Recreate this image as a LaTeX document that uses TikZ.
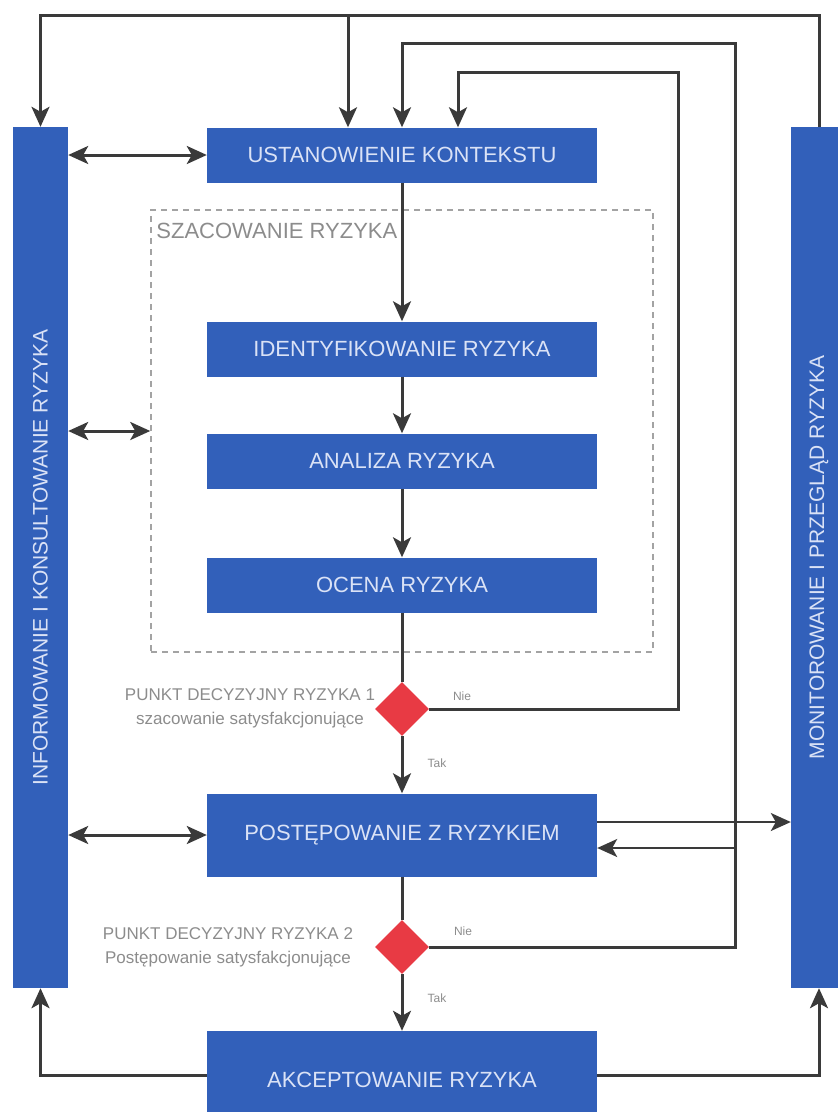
\documentclass[tikz,border=0pt]{standalone}
\usepackage{fontspec}
\setmainfont{Liberation Sans}
\definecolor{riskblue}{RGB}{50,96,186}
\definecolor{boxtext}{RGB}{218,226,246}
\definecolor{linegray}{RGB}{58,58,58}
\definecolor{decred}{RGB}{232,58,68}
\definecolor{muted}{RGB}{140,140,140}
\usetikzlibrary{calc,shapes.geometric,arrows.meta,positioning}
\newcommand{\boxfont}{\fontsize{22}{26}\selectfont}
\newcommand{\barfont}{\fontsize{21}{25}\selectfont}
\newcommand{\notefont}{\fontsize{17}{24}\selectfont}

\begin{document}
\begin{tikzpicture}[x=1pt,y=-1pt,
  stepbox/.style={fill=riskblue, text=boxtext, minimum width=390pt, minimum height=55pt, inner sep=0pt, font=\boxfont},
  sidebar/.style={fill=riskblue, text=boxtext, minimum width=55pt, minimum height=861pt, inner sep=0pt, font=\barfont},
  decision/.style={diamond, fill=decred, minimum width=54pt, minimum height=54pt, inner sep=0pt},
  flow/.style={draw=linegray, line width=3pt, -{Stealth[length=20pt,width=18pt,inset=5pt]}},
  both/.style={flow, {Stealth[length=20pt,width=18pt,inset=5pt]}-{Stealth[length=20pt,width=18pt,inset=5pt]}},
  plain/.style={draw=linegray, line width=3pt},
  note/.style={text=muted, font=\notefont, align=center},
  answer/.style={text=muted, font=\fontsize{12}{14}\selectfont}]
  \useasboundingbox (0,0) rectangle (838,1112);

  \node[sidebar] (info) at (40.5,557.5) {\rotatebox{90}{INFORMOWANIE I KONSULTOWANIE RYZYKA}};
  \node[sidebar, minimum width=56pt] (monit) at (819,557.5) {\rotatebox{90}{MONITOROWANIE I PRZEGLĄD RYZYKA}};

  \node[draw=muted!80, line width=1.5pt, dash pattern=on 6pt off 5pt, minimum width=502pt, minimum height=442pt, inner sep=0pt] (szac) at (402,431) {};
  \node[anchor=north west, text=muted, font=\boxfont, inner sep=0pt] (szaclab) at ([xshift=6pt,yshift=-14pt]szac.north west) {SZACOWANIE RYZYKA};

  \node[stepbox] (ust) at (402,155) {USTANOWIENIE KONTEKSTU};
  \node[stepbox] (ident) at (402,349) {IDENTYFIKOWANIE RYZYKA};
  \node[stepbox] (anal) at (402,461) {ANALIZA RYZYKA};
  \node[stepbox] (ocena) at (402,585) {OCENA RYZYKA};
  \node[decision] (dec1) at (402,709) {};
  \node[stepbox, minimum height=83pt] (post) at (402,835) {POSTĘPOWANIE Z RYZYKIEM};
  \node[decision] (dec2) at (402,947) {};
  \node[stepbox, minimum height=98pt] (akc) at (402,1080) {AKCEPTOWANIE RYZYKA};

  \node[note] (note1) at (250,708) {PUNKT DECYZYJNY RYZYKA 1\\szacowanie satysfakcjonujące};
  \node[note] (note2) at (228,947) {PUNKT DECYZYJNY RYZYKA 2\\Postępowanie satysfakcjonujące};
  \node[answer] (nie1) at (462,696) {Nie};
  \node[answer] (tak1) at (437,763) {Tak};
  \node[answer] (nie2) at (463,931) {Nie};
  \node[answer] (tak2) at (437,998) {Tak};

  \draw[flow] (ust) -- (ident);
  \draw[flow] (ident) -- (anal);
  \draw[flow] (anal) -- (ocena);
  \draw[plain] (ocena) -- (dec1);
  \draw[flow] (dec1) -- (post);
  \draw[plain] (post) -- (dec2);
  \draw[flow] (dec2) -- (akc);

  \coordinate (loop1) at (678,72);
  \coordinate (loop2) at (735,43);
  \coordinate (loop3) at (819,15);
  \coordinate (ctx) at (348,15);
  \draw[flow] (dec1.east) -| (loop1) -| ([xshift=56pt]ust.north);
  \draw[flow] (dec2.east) -| (loop2) -| (ust.north);
  \draw[flow] (monit.north) -- (loop3) -| (info.north);
  \draw[flow] (ctx) -- (ctx |- ust.north);

  \coordinate (back) at (735,848);
  \coordinate (fwd) at ([yshift=13pt]post.east);
  \draw[flow, line width=2pt] (back) -- (back -| post.east);
  \draw[flow, line width=2pt] (fwd) -- (fwd -| monit.west);

  \draw[both] (info.east |- ust) -- (ust);
  \draw[both] (info.east |- szac.west) -- (szac.west);
  \draw[both] (info.east |- post) -- (post);

  \coordinate (accl) at ([yshift=5pt]akc.west);
  \coordinate (accr) at ([yshift=5pt]akc.east);
  \draw[flow] (accl) -| (info.south);
  \draw[flow] (accr) -| (monit.south);
\end{tikzpicture}
\end{document}
